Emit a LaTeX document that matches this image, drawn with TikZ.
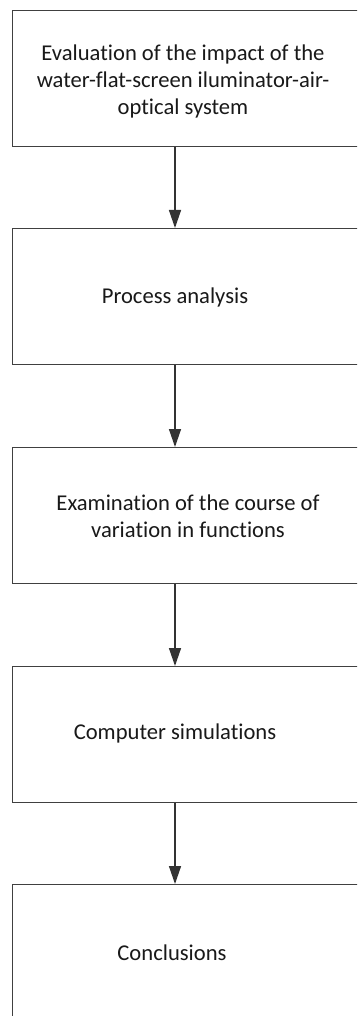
\documentclass[tikz,border=0pt]{standalone}
\usepackage{fontspec}
\setmainfont{Carlito}[Ligatures=NoCommon]
\usetikzlibrary{arrows.meta}
\begin{document}
\begin{tikzpicture}[x=1pt,y=-1pt,
  box/.style={draw=black!75, line width=1.4pt, minimum width=368pt, minimum height=136pt, inner sep=0pt, anchor=north west},
  lbl/.style={font=\fontsize{22.6}{27}\selectfont, text=black!90, align=center, inner sep=0pt},
  arr/.style={draw=black!80, line width=1.4pt, -{Triangle[length=18pt,width=12pt]}}]
\useasboundingbox (0,0) rectangle (357,1016);
\clip (0,0) rectangle (357,1016);
\fill[white] (0,0) rectangle (357,1016);
\coordinate (ax) at (175,0);
\node[box] (b1) at (12,10) {};
\node[box] (b2) at (12,228) {};
\node[box] (b3) at (12,447) {};
\node[box] (b4) at (12,666) {};
\node[box] (b5) at (12,884) {};
\node[lbl] (t1) at (183,81) {Evaluation of the impact of the\\water-flat-screen iluminator-air-\\optical system};
\node[lbl] (t2) at (175,297) {Process analysis};
\node[lbl] (t3) at (188,516) {Examination of the course of\\variation in functions};
\node[lbl] (t4) at (175,733) {Computer simulations};
\node[lbl] (t5) at (172,953) {Conclusions};
\draw[arr] (b1.south -| ax) -- (b2.north -| ax);
\draw[arr] (b2.south -| ax) -- (b3.north -| ax);
\draw[arr] (b3.south -| ax) -- (b4.north -| ax);
\draw[arr] (b4.south -| ax) -- (b5.north -| ax);
\end{tikzpicture}
\end{document}
